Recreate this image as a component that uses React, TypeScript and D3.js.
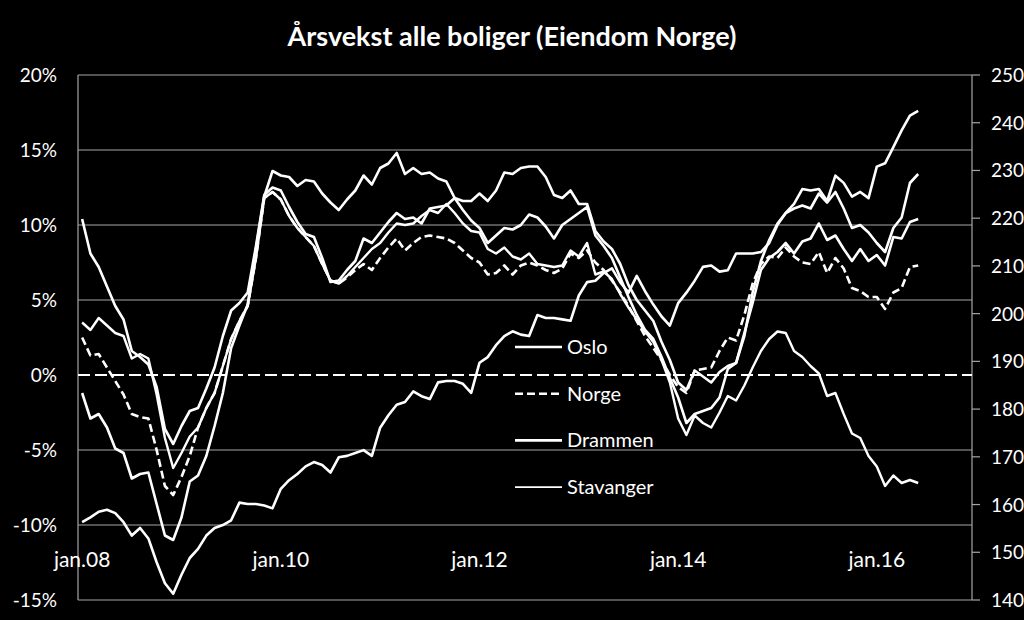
import React from 'react';
import * as d3 from 'd3';

// ---------- data ----------
const title = 'Årsvekst alle boliger (Eiendom Norge)';
const categoryCount = 108; // jan.08 .. des.16
const xTickIndex = [0, 24, 48, 72, 96];
const xTickLabels = ['jan.08', 'jan.10', 'jan.12', 'jan.14', 'jan.16'];
const leftTicks = [-15, -10, -5, 0, 5, 10, 15, 20];
const rightTicks = [140, 150, 160, 170, 180, 190, 200, 210, 220, 230, 240, 250];
const legendLabels = ['Oslo', 'Norge', 'Drammen', 'Stavanger'];

// yearly growth, % (left axis)
const oslo = [
  10.4, 8.1, 7.2, 5.9, 4.6, 3.7, 1.6, 1.2, 0.7, -0.8,
  -3.6, -4.6, -3.4, -2.4, -2.2, -0.9, 0.5, 2.6, 4.3, 4.8,
  5.5, 8.6, 12.0, 12.5, 12.3, 11.2, 10.2, 9.4, 9.2, 7.8,
  6.2, 6.3, 7.0, 7.6, 9.1, 8.8, 9.5, 10.2, 10.8, 10.4,
  10.5, 10.1, 11.1, 11.2, 11.3, 11.8, 11.6, 11.6, 12.1, 11.6,
  12.3, 13.5, 13.4, 13.8, 13.9, 13.9, 13.2, 12.0, 11.8, 12.3,
  11.4, 11.4, 9.6, 8.9, 8.4, 7.4, 6.0, 5.0, 4.3, 3.6,
  2.2, 1.0, -0.5, -1.0, 0.3, -0.1, -0.5, 0.2, 0.6, 0.8,
  2.8, 4.8, 7.0, 7.8, 8.2, 8.8, 8.1, 8.9, 9.1, 10.1,
  9.0, 9.3, 8.4, 7.6, 8.4, 7.6, 8.0, 7.3, 9.2, 9.1,
  10.2, 10.4,
];
const stavanger = [
  3.5, 3.0, 3.8, 3.3, 2.8, 2.6, 1.1, 1.4, 1.1, -1.3,
  -4.2, -6.2, -5.2, -4.1, -3.5, -2.2, -1.2, 0.6, 2.4, 3.6,
  4.6, 7.8, 11.8, 12.2, 11.7, 10.6, 9.8, 9.2, 8.6, 7.4,
  6.3, 6.1, 6.6, 7.2, 7.8, 8.4, 8.8, 9.5, 10.1, 10.0,
  10.1, 10.6, 11.0, 10.8, 11.4, 10.8, 10.1, 9.6, 9.5, 8.4,
  8.1, 8.5, 7.9, 7.7, 8.1, 7.4, 7.3, 7.2, 7.3, 8.3,
  7.9, 8.8, 6.7, 6.9, 6.4, 5.4, 4.5, 3.7, 2.9, 2.2,
  1.0, -0.5, -2.9, -4.0, -2.7, -3.2, -3.5, -2.5, -1.4, -1.7,
  -0.7, 0.5, 1.6, 2.4, 2.9, 2.8, 1.6, 1.2, 0.6, 0.1,
  -1.4, -1.2, -2.6, -3.9, -4.2, -5.4, -6.1, -7.4, -6.7, -7.2,
  -7.0, -7.2,
];
const drammen = [
  -1.2, -2.9, -2.6, -3.5, -4.9, -5.2, -6.9, -6.6, -6.5, -8.6,
  -10.7, -11.0, -9.5, -7.1, -6.7, -5.4, -3.4, -1.2, 1.8, 3.3,
  4.7, 8.4, 11.9, 13.6, 13.3, 13.2, 12.6, 13.0, 12.9, 12.1,
  11.5, 11.0, 11.7, 12.3, 13.3, 12.7, 13.8, 14.1, 14.8, 13.4,
  13.8, 13.4, 13.5, 13.1, 12.9, 11.8, 11.0, 10.3, 9.8, 8.8,
  9.3, 9.8, 9.7, 10.0, 10.7, 10.5, 9.9, 9.1, 10.0, 10.4,
  10.8, 11.2, 9.3, 8.6, 7.8, 6.5, 5.2, 4.0, 3.0, 2.4,
  1.2, -0.2, -1.5, -3.2, -2.6, -2.4, -2.2, -1.5, 0.4, 0.8,
  2.6, 5.5, 7.6, 9.0, 10.1, 10.8, 11.1, 11.3, 11.1, 12.1,
  11.5, 12.2, 11.1, 9.8, 10.0, 9.5, 8.8, 8.2, 9.8, 10.5,
  12.8, 13.4,
];
const norge = [
  2.5, 1.3, 1.4, 0.5, -0.4, -1.3, -2.6, -2.8, -2.9, -5.0,
  -7.4, -8.0, -6.8, -5.4, -3.5, -2.2, -1.2, 0.6, 2.4, 3.6,
  4.6, 7.8, 11.8, 12.2, 11.7, 10.6, 9.8, 9.2, 8.6, 7.4,
  6.3, 6.1, 6.5, 7.0, 7.4, 7.0, 7.8, 8.5, 9.1, 8.3,
  8.8, 9.2, 9.3, 9.2, 9.1, 8.8, 8.3, 7.8, 7.5, 6.7,
  6.8, 7.3, 6.7, 7.3, 7.5, 7.3, 7.0, 6.8, 7.1, 8.1,
  7.8, 8.3, 7.5, 7.0, 6.3, 5.5, 4.6, 3.6, 2.6, 1.8,
  1.0, 0.0, -0.8, -1.2, 0.3, 0.4, 0.5, 1.6, 2.5, 2.3,
  4.0, 6.1, 7.4, 7.9, 7.8, 8.5, 7.9, 7.5, 7.4, 8.2,
  6.8, 7.8, 7.1, 5.8, 5.6, 5.2, 5.2, 4.4, 5.5, 5.8,
  7.2, 7.3,
];
// price index (right axis)
const indeks = [
  156.3, 157.3, 158.5, 158.9, 158.2, 156.3, 153.5, 155.1, 152.9, 147.9,
  143.5, 141.3, 145.3, 148.8, 150.7, 153.5, 155.1, 155.7, 156.7, 160.4,
  160.1, 160.1, 159.8, 159.2, 163.3, 165.1, 166.4, 168.0, 168.9, 168.3,
  166.7, 169.9, 170.2, 170.8, 171.4, 170.2, 176.1, 178.7, 180.9, 181.5,
  183.7, 182.7, 182.1, 185.6, 185.9, 185.9, 185.3, 183.4, 189.7, 190.9,
  193.4, 195.3, 196.3, 195.6, 195.3, 199.7, 199.1, 199.1, 198.8, 198.5,
  203.8, 206.6, 206.9, 208.5, 209.5, 206.6, 204.4, 207.9, 204.7, 201.9,
  199.4, 197.5, 202.2, 204.4, 206.9, 209.8, 210.1, 208.8, 209.1, 212.6,
  212.6, 212.6, 212.9, 214.8, 218.6, 221.1, 223.0, 226.1, 225.8, 226.1,
  223.6, 228.9, 227.4, 224.5, 225.5, 224.2, 230.8, 231.5, 234.9, 238.4,
  241.5, 242.5,
];

// ---------- layout ----------
const W = 1024;
const H = 620;
const P = { left: 78, right: 972, top: 75, bottom: 600 };
const FONT = "Lato, 'Open Sans', 'DejaVu Sans', sans-serif";
const GRID = '#a6a6a6';

export default function App() {
  const x = d3.scaleLinear().domain([-0.5, categoryCount - 0.5]).range([P.left, P.right]);
  const yL = d3.scaleLinear().domain([-15, 20]).range([P.bottom, P.top]);
  const yR = d3.scaleLinear().domain([140, 250]).range([P.bottom, P.top]);

  const lineL = d3.line<number>().x((_, i) => x(i)).y((d) => yL(d));
  const lineR = d3.line<number>().x((_, i) => x(i)).y((d) => yR(d));

  const legendX = 515;
  const legendY0 = 347;
  const legendStep = 46.7;
  const legendStyles = [
    { dash: undefined, w: 2.6 },
    { dash: '8,4', w: 2.6 },
    { dash: undefined, w: 2.6 },
    { dash: undefined, w: 1.8 },
  ];

  return (
    <div style={{ position: 'absolute', left: 0, top: 0, width: W, height: H, background: '#000' }}>
      <svg width={W} height={H} style={{ display: 'block' }} fontFamily={FONT}>
        <rect x={0} y={0} width={W} height={H} fill="#000" />
        <text x={512} y={46} textAnchor="middle" fill="#fff" fontSize={27} fontWeight="bold">
          {title}
        </text>

        {/* grid */}
        {leftTicks.filter((t) => t !== 0).map((t) => (
          <line key={t} x1={P.left} x2={P.right} y1={yL(t)} y2={yL(t)} stroke={GRID} strokeWidth={1.2} />
        ))}
        <line x1={P.left} x2={P.left} y1={P.top} y2={P.bottom} stroke={GRID} strokeWidth={1.2} />
        <line x1={P.right} x2={P.right} y1={P.top} y2={P.bottom} stroke={GRID} strokeWidth={1.2} />
        {rightTicks.map((t) => (
          <line key={t} x1={P.right} x2={P.right + 8} y1={yR(t)} y2={yR(t)} stroke={GRID} strokeWidth={1.2} />
        ))}
        <line x1={P.left} x2={P.right} y1={yL(0)} y2={yL(0)} stroke="#fff" strokeWidth={2.2} strokeDasharray="12,5" />

        {/* left labels */}
        {leftTicks.map((t) => (
          <text key={t} x={57} y={yL(t) + 7} textAnchor="end" fill="#fff" fontSize={19}>
            {`${t}%`}
          </text>
        ))}
        {/* right labels */}
        {rightTicks.map((t) => (
          <text key={t} x={991} y={yR(t) + 7} textAnchor="start" fill="#fff" fontSize={19}>
            {t}
          </text>
        ))}
        {/* x labels */}
        {xTickIndex.map((idx, k) => (
          <text key={idx} x={x(idx)} y={567} textAnchor="middle" fill="#fff" fontSize={21}>
            {xTickLabels[k]}
          </text>
        ))}

        {/* series */}
        <g fill="none" stroke="#fff" strokeLinejoin="round" strokeLinecap="butt">
          <path d={lineL(norge) || ''} strokeWidth={2.6} strokeDasharray="8,4" />
          <path d={lineL(stavanger) || ''} strokeWidth={2.4} />
          <path d={lineL(drammen) || ''} strokeWidth={2.6} />
          <path d={lineL(oslo) || ''} strokeWidth={2.6} />
          <path d={lineR(indeks) || ''} strokeWidth={2.6} />
        </g>

        {/* legend */}
        {legendLabels.map((lab, k) => {
          const yy = legendY0 + k * legendStep;
          return (
            <g key={lab}>
              <line x1={legendX} x2={legendX + 47} y1={yy} y2={yy} stroke="#fff"
                strokeWidth={legendStyles[k].w} strokeDasharray={legendStyles[k].dash} />
              <text x={legendX + 52} y={yy + 7} fill="#fff" fontSize={20}>{lab}</text>
            </g>
          );
        })}
      </svg>
    </div>
  );
}
